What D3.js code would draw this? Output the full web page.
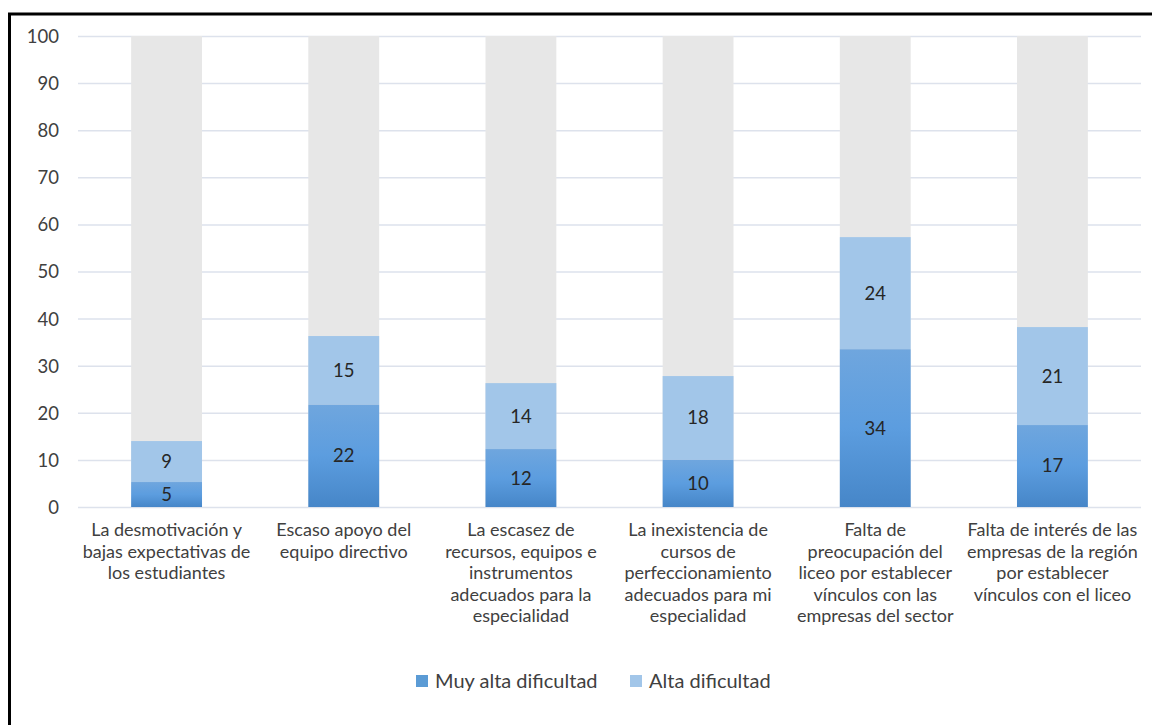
<!DOCTYPE html>
<html><head><meta charset="utf-8">
<script src="https://cdn.jsdelivr.net/npm/d3@7"></script>
<style>body{margin:0;background:#fff;} text{font-family:Lato,"Open Sans",sans-serif;}</style>
</head><body>
<svg id="c" width="1152" height="725"></svg>
<script>
const categories = [
  ["La desmotivación y","bajas expectativas de","los estudiantes"],
  ["Escaso apoyo del","equipo directivo"],
  ["La escasez de","recursos, equipos e","instrumentos","adecuados para la","especialidad"],
  ["La inexistencia de","cursos de","perfeccionamiento","adecuados para mi","especialidad"],
  ["Falta de","preocupación del","liceo por establecer","vínculos con las","empresas del sector"],
  ["Falta de interés de las","empresas de la región","por establecer","vínculos con el liceo"]
];
const muyAlta = [5.3, 21.7, 12.3, 10.0, 33.5, 17.4];
const alta = [8.7, 14.6, 14.0, 17.8, 23.8, 20.8];
const seriesNames = ["Muy alta dificultad", "Alta dificultad"];
const yTicks = [0,10,20,30,40,50,60,70,80,90,100];

const svg = d3.select("#c");
// frame
svg.append("path").attr("d","M9.5,1200 V14 H1200").attr("fill","none").attr("stroke","#000").attr("stroke-width",3);

const x = d3.scaleBand().domain(d3.range(categories.length)).range([78,1141]).paddingInner(0.6).paddingOuter(0.3);
const y = d3.scaleLinear().domain([0,100]).range([507,36]);

const defs = svg.append("defs");
const g1 = defs.append("linearGradient").attr("id","gDark").attr("x1",0).attr("y1",0).attr("x2",0).attr("y2",1);
g1.append("stop").attr("offset","0%").attr("stop-color","#6fa6de");
g1.append("stop").attr("offset","50%").attr("stop-color","#5c9ddf");
g1.append("stop").attr("offset","100%").attr("stop-color","#4686c8");

// gridlines
svg.append("g").selectAll("line").data(yTicks).join("line")
  .attr("x1",78).attr("x2",1141).attr("y1",d=>y(d)+0.5).attr("y2",d=>y(d)+0.5)
  .attr("stroke","#dde2ec").attr("stroke-width",1.5);

// y axis labels
const yAxis = d3.axisLeft(y).tickValues(yTicks).tickSize(0).tickPadding(0);
const ya = svg.append("g").attr("transform","translate(59,0)").call(yAxis);
ya.select(".domain").remove();
ya.selectAll("text").attr("font-size",18.5).attr("fill","#404040").attr("font-family","Lato,sans-serif").attr("dy","0.35em");

// background gray bars
svg.append("g").selectAll("rect").data(categories).join("rect")
  .attr("x",(d,i)=>x(i)).attr("width",x.bandwidth())
  .attr("y",y(100)).attr("height",y(0)-y(100)).attr("fill","#e7e7e7");

// stacked
const stackData = muyAlta.map((v,i)=>({i, a:v, b:alta[i]}));
svg.append("g").selectAll("rect").data(stackData).join("rect")
  .attr("x",d=>x(d.i)).attr("width",x.bandwidth())
  .attr("y",d=>y(d.a+d.b)).attr("height",d=>y(d.a)-y(d.a+d.b)).attr("fill","#a2c6e9");
svg.append("g").selectAll("rect").data(stackData).join("rect")
  .attr("x",d=>x(d.i)).attr("width",x.bandwidth())
  .attr("y",d=>y(d.a)).attr("height",d=>y(0)-y(d.a)).attr("fill","url(#gDark)");

// labels
const lab = svg.append("g").attr("font-size",18.5).attr("fill","#262626").attr("text-anchor","middle");
lab.selectAll("text.a").data(stackData).join("text").attr("class","a")
  .attr("x",d=>x(d.i)+x.bandwidth()/2).attr("y",d=>y(d.a/2)).attr("dy","0.35em").text(d=>Math.round(d.a));
lab.selectAll("text.b").data(stackData).join("text").attr("class","b")
  .attr("x",d=>x(d.i)+x.bandwidth()/2).attr("y",d=>y(d.a+d.b/2)).attr("dy","0.35em").text(d=>Math.round(d.b));

// category labels
const cl = svg.append("g").attr("font-size",18).attr("fill","#404040").attr("text-anchor","middle");
categories.forEach((lines,i)=>{
  const t = cl.append("text").attr("x",x(i)+x.bandwidth()/2).attr("y",536);
  lines.forEach((l,k)=>t.append("tspan").attr("x",x(i)+x.bandwidth()/2).attr("dy",k===0?0:21.5).text(l));
});

// legend
const leg = svg.append("g").attr("font-size",20).attr("fill","#404040");
const legX = [416, 630];
const legCol = ["#5b9bd5","#a2c6e9"];
seriesNames.forEach((n,i)=>{
  leg.append("rect").attr("x",legX[i]).attr("y",675).attr("width",12).attr("height",12).attr("fill",legCol[i]);
  leg.append("text").attr("x",legX[i]+19).attr("y",688).text(n);
});
</script>
</body></html>
